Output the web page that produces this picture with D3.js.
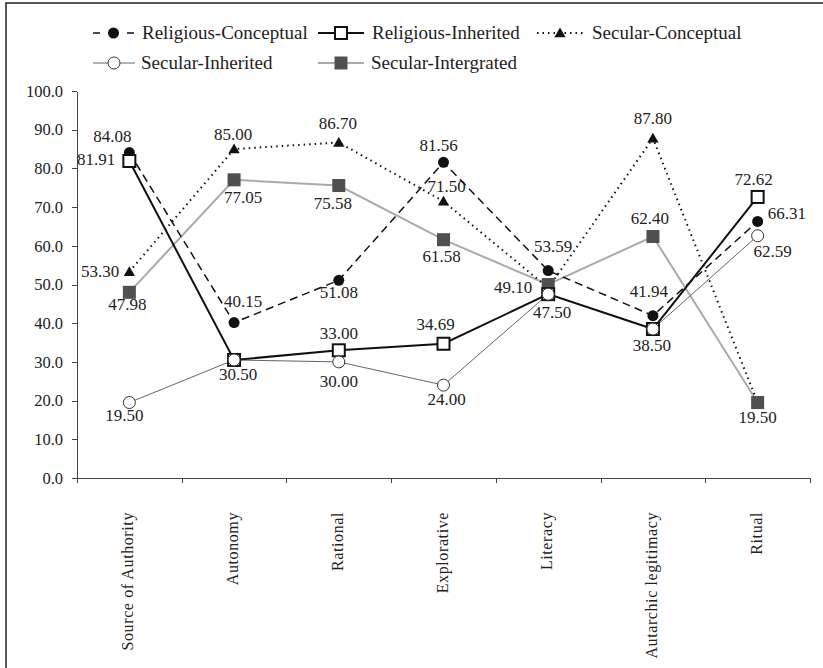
<!DOCTYPE html>
<html lang="en">
<head>
  <meta charset="UTF-8">
  <title>Religious / Secular profiles</title>
  <script src="https://d3js.org/d3.v7.min.js"></script>
  <style>
  body {
    margin: 0;
    background: #fff;
  }
  .num {
    font: 17px "Liberation Serif", serif;
    fill: #222;
  }
  .axis path,
  .axis line {
    fill: none;
    stroke: #444;
    shape-rendering: crispEdges;
  }
  .axis text {
    font: 16.5px "Liberation Serif", serif;
    fill: #222;
  }
  .legend text {
    font: 19px "Liberation Serif", serif;
    fill: #222;
  }
  .cat {
    font: 16px "Liberation Serif", serif;
    letter-spacing: 0.6px;
    fill: #222;
  }
  </style>
</head>
<body>
  <div class="container"></div>
  <script>
  var categories = ["Source of Authority", "Autonomy", "Rational", "Explorative",
                    "Literacy", "Autarchic legitimacy", "Ritual"];
  var yTicks = [0, 10, 20, 30, 40, 50, 60, 70, 80, 90, 100];

  var religiousConceptual = [84.08, 40.15, 51.08, 81.56, 53.59, 41.94, 66.31];
  var religiousInherited  = [81.91, 30.50, 33.00, 34.69, 47.50, 38.50, 72.62];
  var secularConceptual   = [53.30, 85.00, 86.70, 71.50, 49.10, 87.80, 19.50];
  var secularInherited    = [19.50, 30.50, 30.00, 24.00, 47.50, 38.50, 62.59];
  var secularIntegrated   = [47.98, 77.05, 75.58, 61.58, 50.00, 62.40, 19.50];

  var w = 823, h = 668;

  var series = [
    {key: "rc", name: "Religious-Conceptual", values: religiousConceptual},
    {key: "ri", name: "Religious-Inherited", values: religiousInherited},
    {key: "sc", name: "Secular-Conceptual", values: secularConceptual},
    {key: "sh", name: "Secular-Inherited", values: secularInherited},
    {key: "sg", name: "Secular-Intergrated", values: secularIntegrated}
  ];
  var byKey = {};
  series.forEach(function(s) { byKey[s.key] = s; });

  // line looks per series
  var look = {
    rc: {stroke: "#111", width: 1.5, dash: "8,5"},
    ri: {stroke: "#111", width: 2, dash: null},
    sc: {stroke: "#111", width: 2, dash: "1.5,4"},
    sh: {stroke: "#666", width: 1, dash: null},
    sg: {stroke: "#aaa", width: 2, dash: null}
  };

  // where each value label sits relative to its point: [series, index, dx, dy, anchor]
  var labelSpots = [
    ["rc", 0, -17, -11], ["rc", 1, 9, -16], ["rc", 2, 0, 18], ["rc", 3, -5, -11],
    ["rc", 4, 5, -19], ["rc", 5, -4, -19], ["rc", 6, 10, -2, "start"],
    ["ri", 0, -14, 4, "end"], ["ri", 1, 4, 20], ["ri", 2, 0, -11], ["ri", 3, -8, -14],
    ["ri", 4, 4, 24], ["ri", 5, -1, 22], ["ri", 6, -4, -12],
    ["sc", 0, -10, 5, "end"], ["sc", 1, -1, -9], ["sc", 2, -1, -13], ["sc", 3, 3, -9],
    ["sc", 4, -16, 5, "end"], ["sc", 5, 0, -14],
    ["sh", 0, -5, 18], ["sh", 2, 0, 25], ["sh", 3, 3, 20], ["sh", 6, 15, 21],
    ["sg", 0, -2, 18], ["sg", 1, 9, 23], ["sg", 2, -6, 23], ["sg", 3, -2, 22],
    ["sg", 5, -3, -13], ["sg", 6, 0, 20]
  ];

  var xScale = d3.scaleBand().domain(categories).range([77, 810]);
  var xEdge = d3.scaleLinear().domain([0, categories.length]).range([77, 810]);
  var yScale = d3.scaleLinear().domain([0, 100]).range([478, 91]);
  function cx(i) { return xScale(categories[i]) + xScale.bandwidth() / 2; }

  var svg = d3.select('.container')
          .append('svg')
          .attr("width", w)
          .attr("height", h);

  // frame (only top and left edges show in the crop)
  svg.append('path')
    .attr('d', 'M6,668 L6,3 L823,3')
    .attr('fill', 'none')
    .attr('stroke', '#222')
    .attr('stroke-width', 1.5);

  // axes
  svg.append('g').attr('class', 'axis')
    .attr('transform', 'translate(77,0)')
    .call(d3.axisLeft(yScale).tickValues(yTicks).tickFormat(d3.format(".1f"))
          .tickSize(5).tickSizeOuter(0).tickPadding(9));

  svg.append('g').attr('class', 'axis')
    .attr('transform', 'translate(0,478)')
    .call(d3.axisBottom(xEdge).tickValues(d3.range(categories.length + 1))
          .tickFormat("").tickSize(5).tickSizeOuter(0));

  svg.append('g').selectAll('text')
    .data(categories)
    .enter().append('text')
    .attr('class', 'cat')
    .attr('transform', function(d, i) { return 'translate(' + (cx(i) + 4) + ',512) rotate(-90)'; })
    .attr('text-anchor', 'end')
    .text(function(d) { return d; });

  // lines
  var line_generator = d3.line()
      .x(function(d, i) { return cx(i); })
      .y(function(d) { return yScale(d); });

  ["sg", "sh", "sc", "rc", "ri"].forEach(function(k) {
    svg.append('path')
      .attr('d', line_generator(byKey[k].values))
      .attr('fill', 'none')
      .attr('stroke', look[k].stroke)
      .attr('stroke-width', look[k].width)
      .attr('stroke-dasharray', look[k].dash);
  });

  // markers
  function drawMarker(g, k, x, y) {
    if (k === "rc") {
      g.append('circle').attr('cx', x).attr('cy', y).attr('r', 5.5).attr('fill', '#111');
    } else if (k === "ri") {
      g.append('rect').attr('x', x - 6).attr('y', y - 6).attr('width', 12).attr('height', 12)
        .attr('fill', '#fff').attr('stroke', '#111').attr('stroke-width', 2);
    } else if (k === "sc") {
      g.append('path').attr('d', d3.symbol(d3.symbolTriangle).size(55)())
        .attr('transform', 'translate(' + x + ',' + (y + 1) + ')').attr('fill', '#111');
    } else if (k === "sh") {
      g.append('circle').attr('cx', x).attr('cy', y).attr('r', 6)
        .attr('fill', '#fff').attr('stroke', '#333').attr('stroke-width', 1);
    } else {
      g.append('rect').attr('x', x - 6.5).attr('y', y - 6.5).attr('width', 13).attr('height', 13)
        .attr('fill', '#505050');
    }
  }

  var mk = svg.append('g');
  ["sc", "rc", "sg", "ri", "sh"].forEach(function(k) {
    byKey[k].values.forEach(function(v, i) { drawMarker(mk, k, cx(i), yScale(v)); });
  });

  // value labels
  var fmt = d3.format(".2f");
  svg.append('g').selectAll('text')
    .data(labelSpots)
    .enter().append('text')
    .attr('class', 'num')
    .attr('x', function(d) { return cx(d[1]) + d[2]; })
    .attr('y', function(d) { return yScale(byKey[d[0]].values[d[1]]) + d[3]; })
    .attr('text-anchor', function(d) { return d[4] || 'middle'; })
    .text(function(d) { return fmt(byKey[d[0]].values[d[1]]); });

  // legend
  var legendItems = [
    {key: "rc", x0: 93, x1: 134, tx: 142, y: 33},
    {key: "ri", x0: 318, x1: 364, tx: 372, y: 33},
    {key: "sc", x0: 537, x1: 583, tx: 592, y: 33},
    {key: "sh", x0: 93, x1: 135, tx: 141, y: 63},
    {key: "sg", x0: 318, x1: 364, tx: 371, y: 63}
  ];
  var lg = svg.append('g').attr('class', 'legend');
  legendItems.forEach(function(it) {
    var dash = it.key === "rc" ? "7,27,7" : look[it.key].dash;
    lg.append('line')
      .attr('x1', it.x0).attr('x2', it.x1).attr('y1', it.y).attr('y2', it.y)
      .attr('stroke', look[it.key].stroke)
      .attr('stroke-width', look[it.key].width)
      .attr('stroke-dasharray', dash);
    drawMarker(lg, it.key, (it.x0 + it.x1) / 2, it.y);
    lg.append('text')
      .attr('x', it.tx).attr('y', it.y + 6)
      .text(byKey[it.key].name);
  });
  </script>
</body>
</html>
